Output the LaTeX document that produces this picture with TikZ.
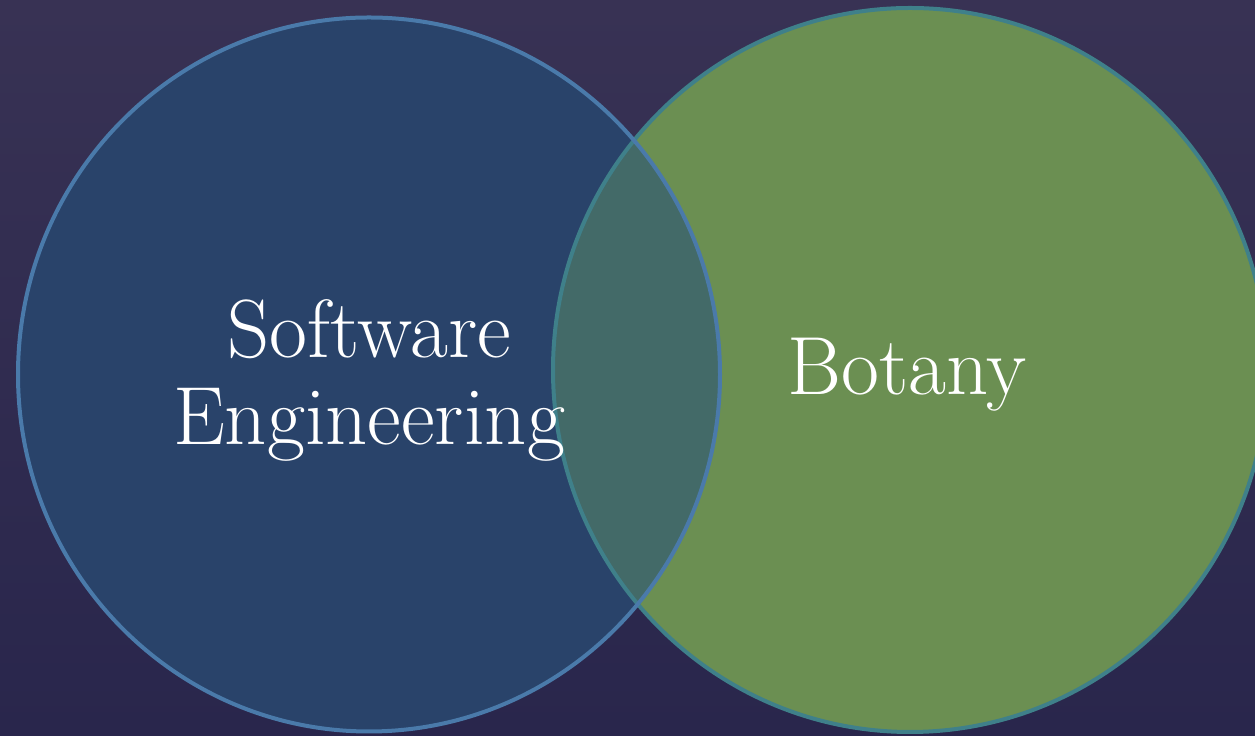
\documentclass[tikz,border=0pt]{standalone}
\usepackage{tikz}
\definecolor{bgtop}{RGB}{56,50,84}
\definecolor{bgbot}{RGB}{41,38,76}
\definecolor{sefill}{RGB}{41,67,106}
\definecolor{seline}{RGB}{74,122,170}
\definecolor{botfill}{RGB}{107,143,82}
\definecolor{botline}{RGB}{63,128,138}
\definecolor{bothfill}{RGB}{67,106,104}

\begin{document}
\begin{tikzpicture}[x=0.02cm,y=0.02cm,
  setlabel/.style={text=white,font=\fontsize{47}{50}\selectfont,align=center,inner sep=0pt}]
  \useasboundingbox(0,0) rectangle (1255,736);
  \clip(0,0) rectangle (1255,736);
  \shade[top color=bgtop,bottom color=bgbot](0,0) rectangle (1255,736);

  % the two sets
  \fill[botfill](910,366) ellipse [x radius=357,y radius=362];
  \fill[sefill](369,361.5) ellipse [x radius=351,y radius=357];
  \begin{scope}
    \clip(369,361.5) ellipse [x radius=351,y radius=357];
    \fill[bothfill](910,366) ellipse [x radius=357,y radius=362];
  \end{scope}
  \draw[botline,line width=0.08cm](910,366) ellipse [x radius=357,y radius=362];
  \draw[seline,line width=0.08cm](369,361.5) ellipse [x radius=351,y radius=357];

  \node[setlabel,anchor=base](se) at (369,291){Software\\Engineering};
  \node[setlabel,anchor=base](bot) at (907,341){Botany};
\end{tikzpicture}
\end{document}
